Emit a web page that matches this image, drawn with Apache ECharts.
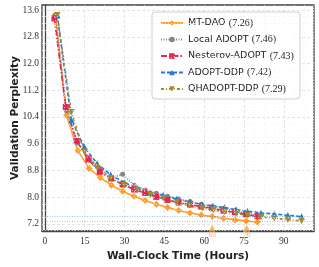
<!DOCTYPE html>
<html><head><meta charset="utf-8">
<script src="https://cdn.jsdelivr.net/npm/echarts@6/dist/echarts.min.js"></script>
<style>html,body{margin:0;padding:0;background:#fff}#c{width:319px;height:267px}</style>
</head><body><div id="c"></div>
<script>
// ---- data ----
const seriesNames = ['MT-DAO (7.26)', 'Local ADOPT (7.46)', 'Nesterov-ADOPT (7.43)', 'ADOPT-DDP (7.42)', 'QHADOPT-DDP (7.29)'];
const hoursLocal = [4.0, 8.2, 12.4, 16.7, 20.9, 25.1, 29.3, 33.6, 37.8, 42.0, 46.2, 50.4, 54.7, 58.9, 63.1, 67.3, 71.6, 75.8, 80.0];
const hoursNesterov = [3.6, 7.9, 12.0, 16.4, 20.7, 25.0, 29.3, 33.6, 37.8, 42.0, 46.2, 50.4, 54.7, 58.9, 63.1, 67.3, 71.6, 75.8, 80.0];
const hoursDDP = [4.7, 10.0, 14.9, 19.7, 24.8, 29.9, 35.0, 39.8, 44.6, 49.6, 54.6, 59.2, 63.4, 67.6, 72.0, 76.3, 81.4, 86.4, 91.5, 96.7];
const pplMTDAO = [13.45, 10.45, 9.40, 8.86, 8.59, 8.36, 8.18, 8.03, 7.90, 7.79, 7.69, 7.60, 7.53, 7.47, 7.42, 7.37, 7.33, 7.29, 7.26];
const pplLocal = [13.45, 10.58, 9.62, 9.18, 8.86, 8.58, 8.69, 8.36, 8.22, 8.12, 8.03, 7.95, 7.87, 7.79, 7.73, 7.66, 7.60, 7.53, 7.46];
const pplNesterov = [13.35, 10.70, 9.68, 9.13, 8.76, 8.56, 8.38, 8.23, 8.13, 8.01, 7.92, 7.84, 7.78, 7.72, 7.67, 7.60, 7.55, 7.49, 7.43];
const pplADOPT = [13.45, 10.30, 9.50, 9.01, 8.67, 8.44, 8.26, 8.14, 8.06, 7.95, 7.86, 7.78, 7.74, 7.69, 7.63, 7.58, 7.53, 7.50, 7.46, 7.42];
const pplQH = [13.44, 10.54, 9.36, 8.90, 8.57, 8.36, 8.21, 8.07, 7.97, 7.84, 7.75, 7.66, 7.62, 7.56, 7.51, 7.46, 7.41, 7.37, 7.33, 7.29];
const refLevels = [7.42, 7.29];
const markerHours = [63, 76];
const xTicks = [0, 15, 30, 45, 60, 75, 90];
const yTicks = [7.2, 8.0, 8.8, 9.6, 10.4, 11.2, 12.0, 12.8, 13.6];
const xMinor = [3.75, 7.5, 11.25, 18.75, 22.5, 26.25, 33.75, 37.5, 41.25, 48.75, 52.5, 56.25, 63.75, 67.5, 71.25, 78.75, 82.5, 86.25, 93.75, 97.5, 101.25];
const yMinor = [7.0, 7.4, 7.6, 7.8, 8.2, 8.4, 8.6, 9.0, 9.2, 9.4, 9.8, 10.0, 10.2, 10.6, 10.8, 11.0, 11.4, 11.6, 11.8, 12.2, 12.4, 12.6, 13.0, 13.2, 13.4];

// ---- style ----
const C = { orange: '#FFA02C', gray: '#858585', red: '#E8274F', blue: '#1F7BD3', olive: '#A68B2E' };
const zip = (xs, ys) => xs.map((x, i) => [x, ys[i]]);
const serif = 'Liberation Serif';
const sans = 'DejaVu Sans';

const chart = echarts.init(document.getElementById('c'), null, { renderer: 'canvas' });

function lineSeries(name, xs, ys, color, type, symbol, size, extra) {
  return Object.assign({
    name, type: 'line', data: zip(xs, ys), symbol, symbolSize: size,
    showSymbol: true, clip: false,
    lineStyle: { color, width: 1.6, type },
    itemStyle: { color },
    emphasis: { disabled: true }, animation: false
  }, extra || {});
}

const option = {
  animation: false,
  grid: { left: 42, right: 5, top: 5, bottom: 36, show: true, borderColor: '#444', borderWidth: 1.3,
    backgroundColor: '#fff', containLabel: false, outerBoundsMode: 'none' },
  xAxis: {
    type: 'value', min: -1.05, max: 101.35,
    name: 'Wall-Clock Time (Hours)', nameLocation: 'middle', nameGap: 16,
    nameTextStyle: { fontFamily: sans, fontWeight: 'bold', fontSize: 10.5, color: '#222' },
    axisLine: { show: true, lineStyle: { color: '#444', width: 1.3 } },
    axisTick: { show: false, customValues: xTicks },
    axisLabel: { customValues: xTicks, fontFamily: serif, fontSize: 9.5, color: '#333', margin: 5 },
    splitLine: { show: true, lineStyle: { color: '#dcdcdc', type: [3, 2], width: 0.8 } }
  },
  yAxis: {
    type: 'value', min: 6.99, max: 13.75,
    name: 'Validation Perplexity', nameLocation: 'middle', nameGap: 21, nameMoveOverlap: false,
    nameTextStyle: { fontFamily: sans, fontWeight: 'bold', fontSize: 10.5, color: '#222' },
    axisLine: { show: true, lineStyle: { color: '#444', width: 1.3 } },
    axisTick: { show: false, customValues: yTicks },
    axisLabel: { customValues: yTicks, fontFamily: serif, fontSize: 9.5, color: '#333', margin: 3,
      formatter: v => v.toFixed(1) },
    splitLine: { show: true, lineStyle: { color: '#dcdcdc', type: [3, 2], width: 0.8 } }
  },
  legend: {
    orient: 'vertical', left: 152, top: 12,
    padding: [5, 6, 4, 8], itemGap: 4.5, itemWidth: 22, itemHeight: 7,
    backgroundColor: 'rgba(255,255,255,0.9)', borderColor: '#cfcfcf', borderWidth: 1, borderRadius: 3,
    data: seriesNames,
    formatter: n => n.replace(/^(.*) (\(.*\))$/, '{n|$1} {v|$2}'),
    textStyle: {
      color: '#222', lineHeight: 12,
      rich: { n: { fontFamily: sans, fontSize: 9.5, color: '#222' }, v: { fontFamily: serif, fontSize: 10, color: '#222' } }
    }
  },
  series: [
    {
      name: 'minor-grid', type: 'line', data: [], silent: true, z: 0,
      markLine: {
        silent: true, symbol: 'none', label: { show: false }, animation: false,
        lineStyle: { color: '#efefef', type: [1, 2], width: 0.7 },
        data: xMinor.map(v => ({ xAxis: v })).concat(yMinor.map(v => ({ yAxis: v })))
      }
    },
    lineSeries(seriesNames[0], hoursLocal, pplMTDAO, C.orange, 'solid', 'diamond', 7),
    lineSeries(seriesNames[1], hoursLocal, pplLocal, C.gray, [1, 1.5], 'circle', 5),
    lineSeries(seriesNames[2], hoursNesterov, pplNesterov, C.red, [6, 2, 1.5, 2], 'rect', 6),
    lineSeries(seriesNames[3], hoursDDP, pplADOPT, C.blue, [4, 2], 'triangle', 6.5, {
      markLine: { silent: true, symbol: 'none', label: { show: false }, animation: false,
        lineStyle: { color: 'rgba(31,123,211,0.45)', type: [1, 1.5], width: 1 },
        data: [{ yAxis: refLevels[0] }] }
    }),
    lineSeries(seriesNames[4], hoursDDP, pplQH, C.olive, [3, 2, 1, 2], 'triangle', 6.5, {
      symbolRotate: 180,
      markLine: { silent: true, symbol: 'none', label: { show: false }, animation: false,
        lineStyle: { color: 'rgba(166,139,46,0.5)', type: [1, 1.5], width: 1 },
        data: [{ yAxis: refLevels[1] }] }
    }),
    {
      name: 'markers', type: 'scatter', data: markerHours.map(h => [h, 7.08]),
      symbol: 'triangle', symbolSize: 6.5, itemStyle: { color: C.orange }, clip: false, z: 10,
      silent: true
    }
  ]
};
chart.setOption(option);

// annotation labels under the triangle markers, positioned through the chart's own scales
const labelGraphics = markerHours.map(h => {
  const p = chart.convertToPixel({ xAxisIndex: 0, yAxisIndex: 0 }, [h, 7.08]);
  return {
    type: 'text', x: p[0], y: p[1] + 3.5, z: 100, zlevel: 1,
    style: { text: String(h), fill: '#FFB04A', fontSize: 7.5, fontFamily: serif, align: 'center', verticalAlign: 'top' }
  };
});
chart.setOption({ graphic: { elements: labelGraphics } });
</script>
</body></html>
